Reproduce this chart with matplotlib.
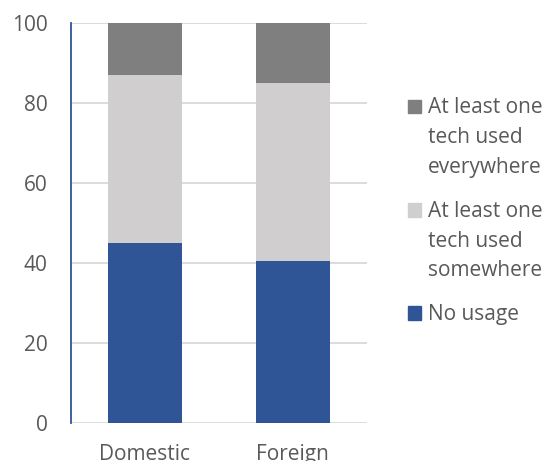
import matplotlib
matplotlib.use("Agg")
import matplotlib.pyplot as plt
from matplotlib.patches import Rectangle

categories = ["Domestic", "Foreign"]
no_usage = [45, 40.5]
somewhere = [42, 44.5]
everywhere = [13, 15]
series_labels = ["At least one\ntech used\neverywhere",
                 "At least one\ntech used\nsomewhere",
                 "No usage"]
yticks = [0, 20, 40, 60, 80, 100]

c_blue = "#2F5597"
c_light = "#D0CECE"
c_dark = "#7F7F7F"
txt = "#595959"
plt.rcParams['font.family'] = ['Open Sans', 'DejaVu Sans']
FS = 15

W, H = 547, 461
fig = plt.figure(figsize=(W/100, H/100), dpi=100)
ax = fig.add_axes([70.7/W, 1-422.7/H, (366.7-70.7)/W, 400/H])

x = range(len(categories))
ax.bar(x, no_usage, width=0.5, color=c_blue, zorder=3)
ax.bar(x, somewhere, width=0.5, bottom=no_usage, color=c_light, zorder=3)
bot2 = [a+b for a, b in zip(no_usage, somewhere)]
ax.bar(x, everywhere, width=0.5, bottom=bot2, color=c_dark, zorder=3)

ax.set_xlim(-0.5, 1.5)
ax.set_ylim(0, 100)
ax.set_yticks(yticks)
ax.set_xticks(list(x))
ax.set_xticklabels(categories)
ax.yaxis.grid(True, color="#D9D9D9", linewidth=1.3, zorder=0)
ax.set_axisbelow(True)
for s in ["top", "right", "bottom"]:
    ax.spines[s].set_visible(False)
ax.spines["left"].set_color(c_blue)
ax.spines["left"].set_linewidth(1.3)
ax.spines["left"].set_zorder(4)
ax.tick_params(axis="both", length=0, labelsize=FS, colors=txt)
ax.tick_params(axis="y", pad=16.5)
ax.tick_params(axis="x", pad=15)

# legend drawn manually
colors = [c_dark, c_light, c_blue]
first_baselines = [113.3, 216.7, 319.5]
line_sp = 29.8
for lab, col, b0 in zip(series_labels, colors, first_baselines):
    fig.patches.append(Rectangle((408.3/W, 1-b0/H), 13/W, 13.3/H,
                                 transform=fig.transFigure, color=col))
    for i, line in enumerate(lab.split("\n")):
        fig.text(428.3/W, 1-(b0+i*line_sp)/H, line, fontsize=FS, color=txt,
                 va="baseline", ha="left")

fig.savefig("out.png", dpi=100)
